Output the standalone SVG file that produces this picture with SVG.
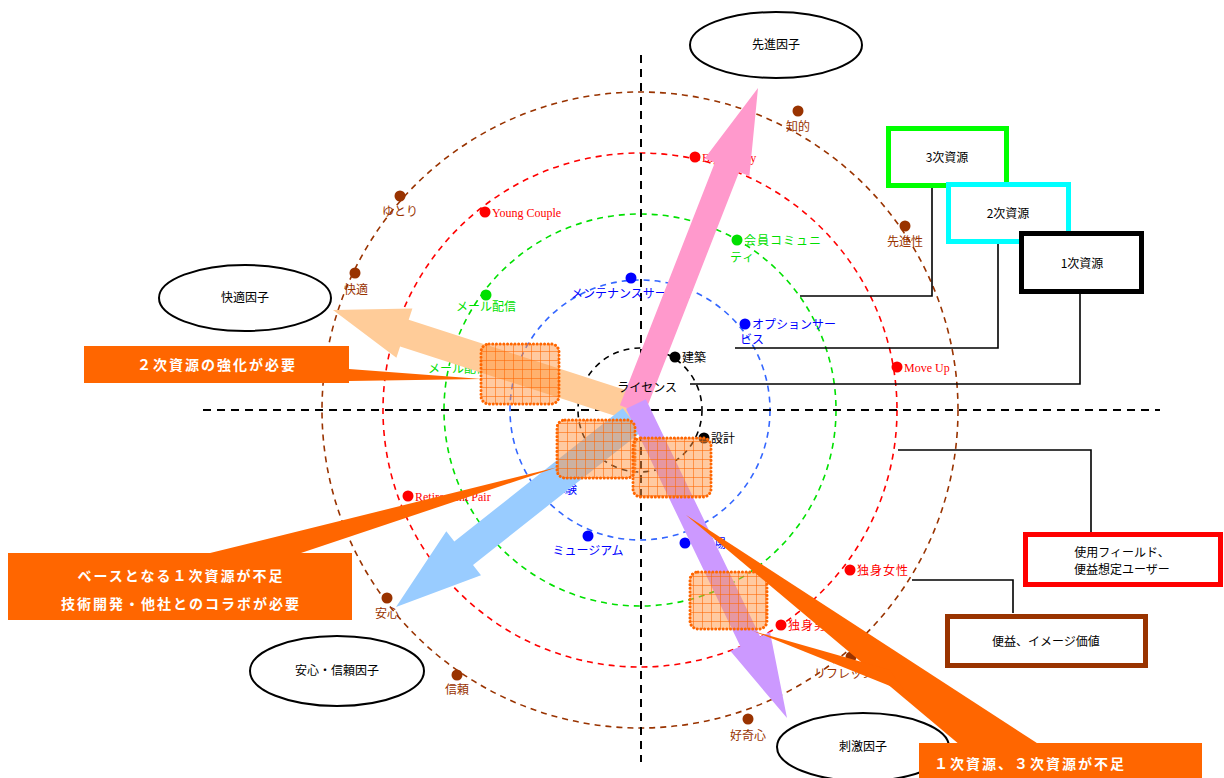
<svg xmlns="http://www.w3.org/2000/svg" width="1224" height="778" viewBox="0 0 1224 778">
<defs>
<style>
.jp{font-family:"Noto Sans CJK JP","Noto Sans",sans-serif;font-size:12px}
.en{font-family:"Liberation Serif",serif;font-size:12px}
.br{fill:#993300}.rd{fill:#FF0000}.gr{fill:#00E000}.bl{fill:#0000FF}.bk{fill:#000}
.ring{fill:none;stroke-width:1.6;stroke-dasharray:6 5}
.axis{stroke:#000;stroke-width:2;stroke-dasharray:8 6;fill:none}
.conn{fill:none;stroke:#000;stroke-width:1.6}
.ell{fill:#fff;stroke:#000;stroke-width:2}
.ctext{font-family:"Noto Sans CJK JP","Noto Sans",sans-serif;font-size:12px;fill:#000;text-anchor:middle}
.res{fill:#fff;stroke-width:5}
.callout{fill:#FF6600}
.ctxt{font-family:"Noto Sans CJK JP","Noto Sans",sans-serif;font-size:14px;font-weight:bold;fill:#fff;letter-spacing:2px;text-anchor:middle}
.pbox{fill:url(#grid);stroke:#FF6600;stroke-width:3;stroke-dasharray:0.1 3.6;stroke-linecap:round}
</style>
<pattern id="grid" width="9" height="9" patternUnits="userSpaceOnUse">
<rect width="9" height="9" fill="#FF9644" fill-opacity="0.5"/>
<path d="M0 0.5H9M0.5 0V9" stroke="#FF6600" stroke-opacity="0.7" stroke-width="0.8"/>
</pattern>
</defs>

<g id="rings">
<circle class="ring" cx="640" cy="410" r="318" stroke="#993300"/>
<circle class="ring" cx="640" cy="410" r="257" stroke="#FF0000"/>
<circle class="ring" cx="640" cy="410" r="196" stroke="#00E000"/>
<circle class="ring" cx="640" cy="410" r="130" stroke="#3366FF"/>
<circle class="ring" cx="640" cy="410" r="62" stroke="#000"/>
</g>
<g id="axes">
<line class="axis" x1="641" y1="55" x2="641" y2="762"/>
<line class="axis" x1="203" y1="410" x2="1160" y2="410"/>
</g>

<g id="connectors">
<polyline class="conn" points="800,296 932,296 932,188"/>
<polyline class="conn" points="735,348 998,348 998,244"/>
<polyline class="conn" points="690,384 1080,384 1080,294"/>
<polyline class="conn" points="898,450 1091,450 1091,532"/>
<polyline class="conn" points="912,580 1013,580 1013,613"/>
</g>

<g id="points">
<g class="br">
<circle cx="798" cy="111" r="5.5"/><text class="jp" x="798" y="131" text-anchor="middle">知的</text>
<circle cx="905" cy="226" r="5.5"/><text class="jp" x="905" y="246" text-anchor="middle">先進性</text>
<circle cx="400" cy="196" r="5.5"/><text class="jp" x="400" y="216" text-anchor="middle">ゆとり</text>
<circle cx="355" cy="273" r="5.5"/><text class="jp" x="356" y="294" text-anchor="middle">快適</text>
<circle cx="387" cy="598" r="5.5"/><text class="jp" x="387" y="618" text-anchor="middle">安心</text>
<circle cx="457" cy="675" r="5.5"/><text class="jp" x="457" y="694" text-anchor="middle">信頼</text>
<circle cx="748" cy="719" r="5.5"/><text class="jp" x="748" y="740" text-anchor="middle">好奇心</text>
<circle cx="851" cy="657" r="5.5"/><text class="jp" x="850" y="678" text-anchor="middle">リフレッシュ</text>
</g>
<g class="rd">
<circle cx="695" cy="157" r="5.5"/><text class="en" x="702" y="162">Big Family</text>
<circle cx="485" cy="212" r="5.5"/><text class="en" x="492" y="217">Young Couple</text>
<circle cx="897" cy="367" r="5.5"/><text class="en" x="904" y="372">Move Up</text>
<circle cx="408" cy="496" r="5.5"/><text class="en" x="415" y="501">Retirement Pair</text>
<circle cx="850" cy="570" r="5.5"/><text class="jp" x="857" y="575" letter-spacing="1">独身女性</text>
<circle cx="781" cy="625" r="5.5"/><text class="jp" x="788" y="630" letter-spacing="1">独身男性</text>
</g>
<g class="gr">
<circle cx="737" cy="240" r="5.5"/><text class="jp" x="744" y="245" letter-spacing="1">会員コミュニ</text><text class="jp" x="730" y="262" letter-spacing="1">ティ</text>
<circle cx="486" cy="295" r="5.5"/><text class="jp" x="486" y="311" text-anchor="middle">メール配信</text>
<text class="jp" x="458" y="373" text-anchor="middle">メール配信</text>
</g>
<g class="bl">
<circle cx="631" cy="278" r="5.5"/><text class="jp" x="631" y="298" text-anchor="middle">メンテナンスサービス</text>
<circle cx="745" cy="324" r="5.5"/><text class="jp" x="752" y="329">オプションサー</text><text class="jp" x="740" y="344">ビス</text>
<circle cx="588" cy="536" r="5.5"/><text class="jp" x="588" y="555" text-anchor="middle">ミュージアム</text>
<circle cx="685" cy="543" r="5.5"/><text class="jp" x="702" y="548">工場</text>
<text class="jp" x="577" y="494" text-anchor="end">体験</text>
</g>
<g class="bk">
<circle cx="675" cy="357" r="5.5"/><text class="jp" x="682" y="362">建築</text>
<circle cx="704" cy="438" r="5.5"/><text class="jp" x="711" y="443">設計</text>
</g>
</g>

<g id="factor-arrows">
<polygon fill="#FFCC99" points="640.3,394.7 408.7,319.8 412.4,308.4 333,310 396.4,357.8 400.1,346.4 631.7,421.3"/>
<polygon fill="#99CCFF" points="622.7,408.2 454.3,541.5 446.3,531.3 396,607 481.0,575.2 473.0,565.0 641.3,431.8"/>
<polygon fill="#FF99CC" points="644.1,414.7 739.1,171.9 749.4,175.9 758,88 704.7,158.4 714.9,162.4 619.9,405.3"/>
<polygon fill="#CC99FF" points="626.1,408.8 740.3,646.2 730.4,651.0 787,718 770.0,631.9 760.1,636.6 645.9,399.2"/>
</g>
<text class="jp bk" x="677" y="392" text-anchor="end">ライセンス</text>

<g id="resource-gaps">
<rect class="pbox" x="481" y="344" width="78" height="60" rx="8"/>
<rect class="pbox" x="557" y="420" width="78" height="58" rx="8"/>
<rect class="pbox" x="633" y="438" width="78" height="59" rx="8"/>
<rect class="pbox" x="690" y="572" width="77" height="57" rx="8"/>
</g>

<g id="factor-sentan">
<ellipse class="ell" cx="776" cy="45" rx="86" ry="33"/><text class="ctext" x="776" y="49">先進因子</text>
</g>
<g id="factor-kaiteki">
<ellipse class="ell" cx="245" cy="298" rx="86" ry="33"/><text class="ctext" x="245" y="302">快適因子</text>
</g>
<g id="factor-anshin">
<ellipse class="ell" cx="337" cy="671" rx="87" ry="35"/><text class="ctext" x="337" y="675">安心・信頼因子</text>
</g>
<g id="factor-shigeki">
<ellipse class="ell" cx="863" cy="747" rx="86" ry="34"/><text class="ctext" x="863" y="751">刺激因子</text>
</g>

<g id="res3">
<rect class="res" x="888.5" y="128.5" width="118" height="57" stroke="#00FF00"/><text class="ctext" x="947" y="162">3次資源</text>
</g>
<g id="res2">
<rect class="res" x="948.5" y="184.5" width="120" height="57" stroke="#00FFFF"/><text class="ctext" x="1008" y="218">2次資源</text>
</g>
<g id="res1">
<rect class="res" x="1021.5" y="233.5" width="120" height="58" stroke="#000"/><text class="ctext" x="1082" y="268">1次資源</text>
</g>
<g id="field-users">
<rect class="res" x="1025.5" y="534.5" width="195" height="50" stroke="#FF0000"/>
<text class="ctext" x="1122" y="557">使用フィールド、</text><text class="ctext" x="1122" y="574">便益想定ユーザー</text>
</g>
<g id="benefit">
<rect class="res" x="947.5" y="616.5" width="198" height="49" stroke="#993300"/><text class="ctext" x="1046" y="646">便益、イメージ価値</text>
</g>

<g id="callout-2ji">
<polygon class="callout" points="349,369 482,379 349,381"/>
<rect class="callout" x="84" y="346" width="265" height="37"/>
<text class="ctxt" x="217" y="370">２次資源の強化が必要</text>
</g>
<g id="callout-1ji">
<polygon class="callout" points="206,554 558,467 298,554"/>
<rect class="callout" x="8" y="553" width="344" height="67"/>
<text class="ctxt" x="181" y="581">ベースとなる１次資源が不足</text>
<text class="ctxt" x="181" y="609">技術開発・他社とのコラボが必要</text>
</g>
<g id="callout-13ji">
<polygon class="callout" points="686,515 1040,745 960,745"/>
<polygon class="callout" points="753,631 890,670 905,692"/>
<rect class="callout" x="919" y="743" width="283" height="40"/>
<text class="ctxt" x="1030" y="769">１次資源、３次資源が不足</text>
</g>
</svg>
